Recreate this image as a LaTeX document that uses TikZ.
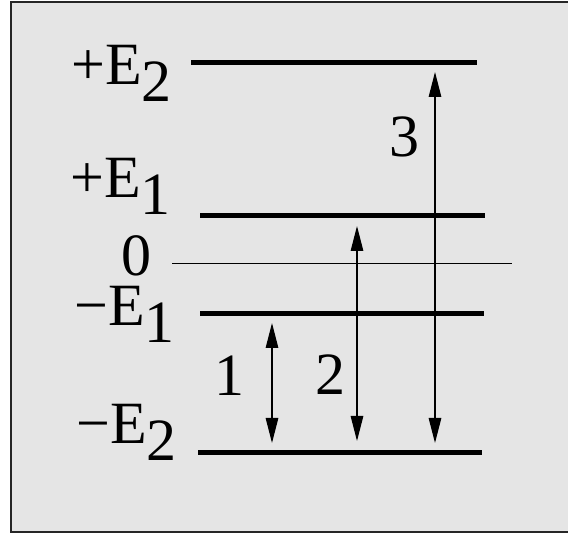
\documentclass[tikz,border=0pt]{standalone}
\usepackage{fontspec}
\setmainfont{Liberation Serif}
\usetikzlibrary{arrows.meta}
\tikzset{
  level/.style={line width=5pt},
  zeroline/.style={line width=1pt},
  trans/.style={line width=1.3pt,{Triangle[length=25pt,width=12.5pt]}-{Triangle[length=25pt,width=12.5pt]}},
  lab/.style={inner sep=0pt,anchor=base west,text height=40pt,font=\fontsize{60}{60}\selectfont},
  num/.style={inner sep=0pt,anchor=base,text height=40pt,text depth=0pt,font=\fontsize{60}{60}\selectfont}
}
\newcommand{\lowsub}[1]{\raisebox{-17pt}{#1}}
\begin{document}
\begin{tikzpicture}[x=1pt,y=-1pt]
\useasboundingbox (0,0) rectangle (568,534);
\begin{scope}
\clip (0,0) rectangle (568,534);
\draw[line width=1.5pt,fill=black!10,draw=black!85] (11,2) rectangle (600,532);
\end{scope}
% levels
\coordinate (e2a) at (191,63);  \coordinate (e2b) at (477,63);
\coordinate (e1a) at (200,216); \coordinate (e1b) at (485,216);
\coordinate (z0a) at (172,264); \coordinate (z0b) at (512,264);
\coordinate (m1a) at (200,314); \coordinate (m1b) at (484,314);
\coordinate (m2a) at (198,453); \coordinate (m2b) at (482,453);
\draw[level] (e2a) -- (e2b);
\draw[level] (e1a) -- (e1b);
\draw[zeroline] (z0a) -- (z0b);
\draw[level] (m1a) -- (m1b);
\draw[level] (m2a) -- (m2b);
% labels
\node[lab] (le2) at (71,85) {+E\lowsub{2}};
\node[lab] (le1) at (70,198) {+E\lowsub{1}};
\node[lab,text depth=0pt] (lz) at (121,276) {0};
\node[lab] (lm1) at (74,326) {−E\lowsub{1}};
\node[lab] (lm2) at (76,444) {−E\lowsub{2}};
% transitions
\coordinate (a1t) at (272,323); \coordinate (a1b) at (272,443);
\coordinate (a2t) at (357,226); \coordinate (a2b) at (357,441);
\coordinate (a3t) at (435,72);  \coordinate (a3b) at (435,443);
\draw[trans] (a1t) -- (a1b);
\draw[trans] (a2t) -- (a2b);
\draw[trans] (a3t) -- (a3b);
\node[num] (n1) at (229,396) {1};
\node[num] (n2) at (330,395) {2};
\node[num] (n3) at (404,157) {3};
\end{tikzpicture}
\end{document}
